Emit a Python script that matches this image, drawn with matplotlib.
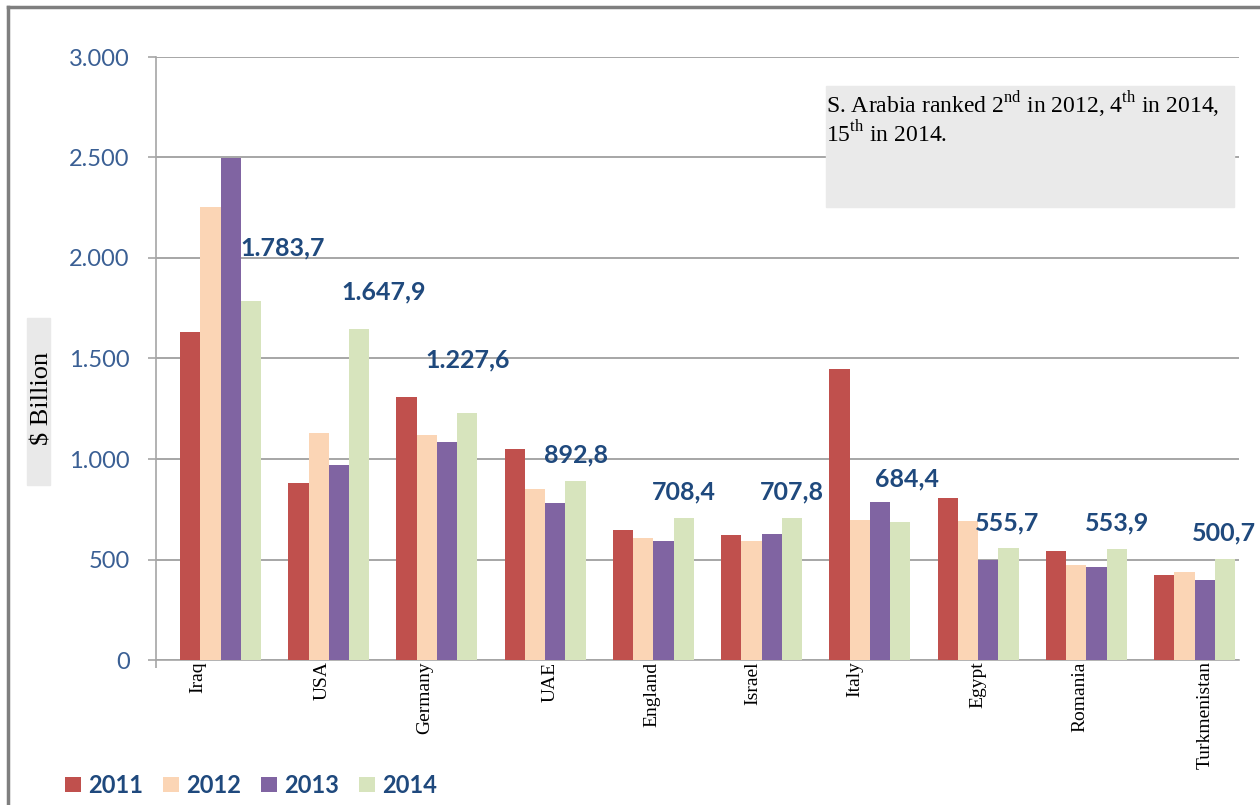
import matplotlib
matplotlib.use("Agg")
import matplotlib.pyplot as plt
from matplotlib.lines import Line2D
from matplotlib.patches import Patch, Rectangle
from matplotlib.ticker import FuncFormatter

countries = ["Iraq", "USA", "Germany", "UAE", "England", "Israel", "Italy",
             "Egypt", "Romania", "Turkmenistan"]
years = ["2011", "2012", "2013", "2014"]

v2011 = [1632, 881, 1308, 1050, 647, 622, 1448, 806, 542, 423]
v2012 = [2254, 1129, 1119, 851, 607, 594, 697, 692, 473, 436]
v2013 = [2497, 970, 1085, 781, 592, 627, 786, 497, 463, 398]
v2014 = [1783.7, 1647.9, 1227.6, 892.8, 708.4, 707.8, 684.4, 555.7, 553.9, 500.7]

colors = ["#C0504D", "#FBD5B5", "#8064A2", "#D7E4BD"]

# value labels: horizontal shift (category units) and lift (data units)
label_dx = [0.57, 0.51, 0.28, 0.28, 0.28, 0.28, 0.34, 0.27, 0.28, 0.27]
label_lift = [266, 183, 265, 127, 128, 128, 216, 126, 128, 131]
# country names sit a bit off the group centres in the original
tick_dx = [-0.21, -0.06, -0.11, 0.05, -0.01, -0.08, -0.14, 0.0, -0.06, 0.10]

note = ("S. Arabia ranked 2$^{\\mathrm{nd}}$ in 2012, 4$^{\\mathrm{th}}$ in 2014,\n"
        "15$^{\\mathrm{th}}$ in 2014.")

W, H = 1260, 805
BLUE = "#1F497D"
TICK_BLUE = "#3A5F94"
GRID = "#A6A6A6"


def fx(px):
    return px / W


def fy(py):
    return 1 - py / H


def euro(v, dec=0):
    s = f"{v:,.{dec}f}"
    return s.replace(",", "#").replace(".", ",").replace("#", ".")


def main():
    plt.rcParams["mathtext.fontset"] = "custom"
    plt.rcParams["mathtext.rm"] = "Liberation Serif"

    fig = plt.figure(figsize=(12.6, 8.05), dpi=100)
    ax = fig.add_axes([fx(156), fy(660), fx(1239) - fx(156), fy(57) - fy(660)])

    series = [v2011, v2012, v2013, v2014]
    w = 0.187
    x = list(range(len(countries)))
    for j, vals in enumerate(series):
        ax.bar([i + (j - 1.5) * w for i in x], vals, width=w,
               color=colors[j], edgecolor="none", zorder=3)

    for i, v in enumerate(v2014):
        ax.text(i + label_dx[i], v + label_lift[i], euro(v, 1),
                ha="center", va="center", fontsize=18, fontweight="bold",
                family="Lato", color=BLUE, zorder=4)

    ax.set_xlim(-0.596, 9.41)
    ax.set_ylim(0, 3000)
    ax.set_yticks([0, 500, 1000, 1500, 2000, 2500, 3000])
    ax.yaxis.set_major_formatter(FuncFormatter(lambda v, p: euro(v)))
    ax.grid(axis="y", color=GRID, linewidth=1.4, zorder=0)
    ax.tick_params(axis="y", length=6, width=1.2, color=GRID, pad=13,
                   labelsize=17, labelcolor=TICK_BLUE)
    for lab in ax.get_yticklabels():
        lab.set_family("Lato")

    ax.set_xticks([i + d for i, d in zip(x, tick_dx)])
    ax.set_xticklabels(countries, rotation=90, va="top", ha="center",
                       family="Liberation Serif", fontsize=14)
    ax.tick_params(axis="x", length=0, pad=1)
    ax.set_xticks([-0.596], minor=True)
    ax.tick_params(axis="x", which="minor", length=6, width=1.2, color=GRID)

    for s in ["top", "right"]:
        ax.spines[s].set_visible(False)
    for s in ["left", "bottom"]:
        ax.spines[s].set_color(GRID)
        ax.spines[s].set_linewidth(1.2)

    # y label in grey box
    fig.add_artist(Rectangle((fx(27), fy(485)), fx(50) - fx(27), fy(318) - fy(485),
                             transform=fig.transFigure, color="#E9E9E9", zorder=0))
    fig.text(fx(42), fy(398), "\\$ Billion", rotation=90, ha="center", va="center",
             family="Liberation Serif", fontsize=19)

    # note box
    fig.add_artist(Rectangle((fx(826), fy(207)), fx(1234) - fx(826), fy(86) - fy(207),
                             transform=fig.transFigure, color="#EAEAEA", zorder=5))
    fig.text(fx(826), fy(89), note, ha="left", va="top", linespacing=1.05,
             family="Liberation Serif", fontsize=17, zorder=6)

    # outer frame (top and left only visible)
    fig.add_artist(Line2D([fx(8), 1], [fy(7), fy(7)], transform=fig.transFigure,
                          color="#7F7F7F", linewidth=2.5))
    fig.add_artist(Line2D([fx(8), fx(8)], [0, fy(7)], transform=fig.transFigure,
                          color="#7F7F7F", linewidth=2.5))

    handles = [Patch(facecolor=c, edgecolor="none") for c in colors]
    leg = fig.legend(handles, years, loc="center left",
                     bbox_to_anchor=(fx(53), fy(785)), ncol=4, frameon=False,
                     borderpad=0, handlelength=0.68, handleheight=0.6,
                     handletextpad=0.3, columnspacing=0.85,
                     prop={"family": "Lato", "weight": "bold", "size": 17})
    for t in leg.get_texts():
        t.set_color(BLUE)

    fig.savefig("out.png", dpi=100)


if __name__ == "__main__":
    main()
